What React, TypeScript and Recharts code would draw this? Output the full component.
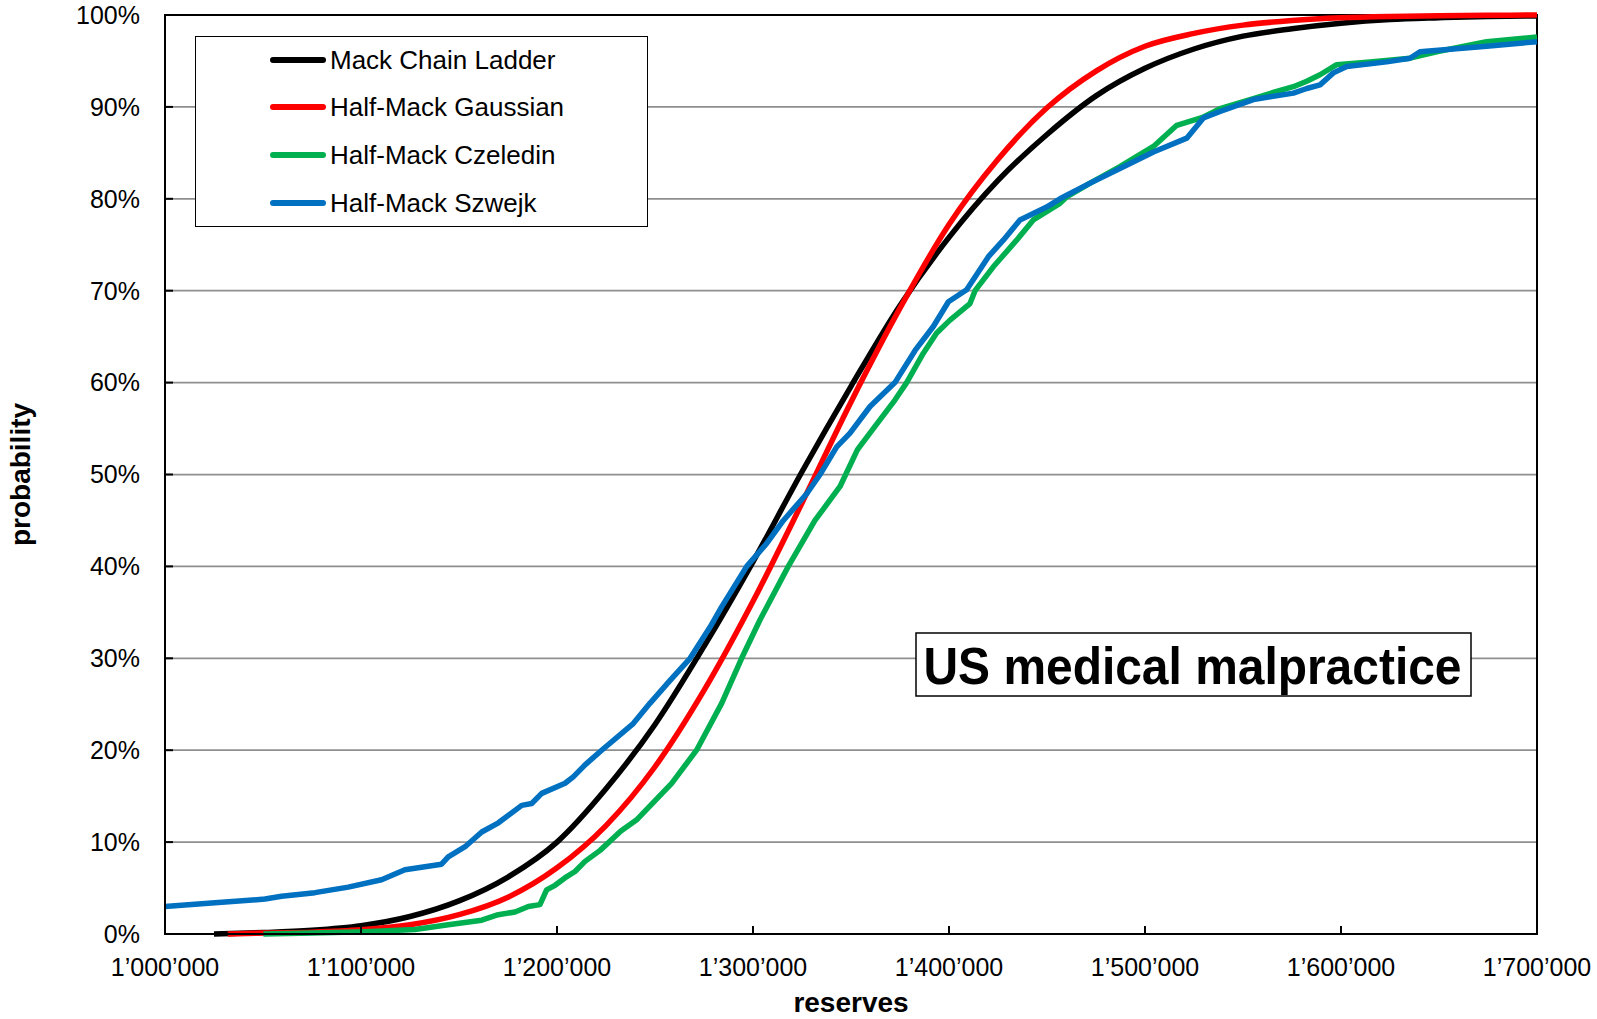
import React from 'react';
import {
  LineChart,
  Line,
  XAxis,
  YAxis,
  CartesianGrid,
  Legend,
  Label,
  ReferenceArea,
  Customized,
} from 'recharts';

const FONT = '"Liberation Sans", Arial, Helvetica, sans-serif';

// axis ticks
const X_TICKS = [1000000, 1100000, 1200000, 1300000, 1400000, 1500000, 1600000, 1700000];
const Y_TICKS = [0, 10, 20, 30, 40, 50, 60, 70, 80, 90, 100];

// series names, in legend order
const SERIES_NAMES = ['Mack Chain Ladder', 'Half-Mack Gaussian', 'Half-Mack Czeledin', 'Half-Mack Szwejk'];

// Mack Chain Ladder (reserves, cumulative probability in %)
const mackX = [
  1025000, 1050000, 1075000, 1100000, 1125000, 1150000, 1175000, 1200000, 1225000, 1250000,
  1275000, 1300000, 1325000, 1350000, 1375000, 1400000, 1425000, 1450000, 1475000, 1500000,
  1525000, 1550000, 1575000, 1600000, 1625000, 1650000, 1675000, 1700000,
];
const mackP = [
  0, 0.15, 0.4, 0.9, 1.9, 3.6, 6.2, 10.0, 15.8, 22.8,
  31.3, 40.5, 50.3, 59.6, 68.4, 75.8, 82.0, 87.0, 91.2, 94.2,
  96.3, 97.7, 98.5, 99.1, 99.5, 99.7, 99.85, 99.9,
];

// Half-Mack Gaussian
const gaussX = [
  1032000, 1050000, 1075000, 1100000, 1125000, 1150000, 1175000, 1200000, 1225000, 1250000,
  1275000, 1300000, 1325000, 1350000, 1375000, 1400000, 1425000, 1450000, 1475000, 1500000,
  1525000, 1550000, 1575000, 1600000, 1625000, 1650000, 1675000, 1700000,
];
const gaussP = [
  0, 0.1, 0.2, 0.45, 1.0, 2.1, 4.0, 7.2, 11.8, 18.2,
  26.5, 36.2, 46.9, 57.9, 68.1, 77.2, 84.3, 89.9, 93.9, 96.6,
  98.0, 98.9, 99.4, 99.7, 99.85, 99.93, 99.97, 100,
];

// Half-Mack Czeledin (simulated, empirical)
const czeledinX = [
  1050200, 1075000, 1102000, 1127500, 1144500, 1161600, 1170000, 1178600, 1185400, 1191300,
  1194700, 1199000, 1204000, 1209200, 1214300, 1222000, 1232600, 1240500, 1258500, 1271200,
  1284000, 1294200, 1303600, 1318000, 1331600, 1344400, 1353300, 1363500, 1372400, 1378400,
  1386900, 1393700, 1400500, 1410700, 1413300, 1422600, 1434500, 1443000, 1456600, 1460000,
  1472000, 1487200, 1504300, 1516200, 1529800, 1538300, 1555300, 1567200, 1575700, 1582500,
  1589300, 1597800, 1614800, 1635200, 1648800, 1674300, 1700000,
];
const czeledinP = [
  0, 0.1, 0.25, 0.5, 1.0, 1.5, 2.1, 2.4, 3.0, 3.2,
  4.8, 5.3, 6.1, 6.8, 7.9, 9.1, 11.2, 12.4, 16.4, 20.0,
  25.1, 30.0, 34.2, 40.0, 45.0, 48.7, 52.7, 55.6, 58.1, 60.0,
  63.2, 65.4, 66.8, 68.6, 70.0, 72.6, 75.5, 77.7, 79.5, 80.2,
  81.7, 83.5, 85.7, 88.0, 88.9, 89.8, 90.9, 91.7, 92.2, 92.8,
  93.5, 94.6, 94.9, 95.3, 96.0, 97.1, 97.6,
];

// Half-Mack Szwejk (simulated, empirical)
const szwejkX = [
  1000000, 1025500, 1051000, 1059500, 1076500, 1093500, 1110500, 1122400, 1141100, 1144500,
  1153100, 1161600, 1170100, 1182000, 1187100, 1192200, 1204100, 1208300, 1214300, 1222800,
  1238900, 1247400, 1257700, 1267900, 1278100, 1284000, 1296800, 1307000, 1315500, 1327400,
  1334200, 1342700, 1349500, 1359700, 1372400, 1382700, 1392000, 1399700, 1409000, 1420100,
  1427700, 1436200, 1449800, 1456600, 1472000, 1487200, 1504300, 1521300, 1529800, 1538300,
  1555300, 1563800, 1575700, 1582500, 1589300, 1596100, 1602900, 1623300, 1635200, 1640300,
  1657300, 1674300, 1700000,
];
const szwejkP = [
  3.0, 3.4, 3.8, 4.1, 4.5, 5.1, 5.9, 7.0, 7.6, 8.4,
  9.5, 11.1, 12.1, 14.0, 14.2, 15.3, 16.4, 17.1, 18.4, 20.0,
  22.9, 25.1, 27.6, 30.0, 33.4, 35.6, 40.0, 42.5, 45.0, 47.9,
  50.0, 53.0, 54.5, 57.4, 60.0, 63.5, 66.1, 68.8, 70.1, 73.7,
  75.5, 77.7, 79.1, 80.0, 81.7, 83.3, 85.1, 86.6, 88.8, 89.5,
  90.8, 91.1, 91.5, 92.0, 92.4, 93.7, 94.4, 94.9, 95.3, 96.0,
  96.3, 96.6, 97.1,
];

const toPoints = (xs: number[], ps: number[]) => xs.map((x, i) => ({ x, p: ps[i] }));

const mackData = toPoints(mackX, mackP);
const gaussData = toPoints(gaussX, gaussP);
const czeledinData = toPoints(czeledinX, czeledinP);
const szwejkData = toPoints(szwejkX, szwejkP);

const formatReserve = (v: number) => String(v).replace(/\B(?=(\d{3})+(?!\d))/g, '\u2019');
const formatPercent = (v: number) => `${v}%`;

function LegendBox({ payload }: any) {
  // keep the series order instead of the alphabetical one
  const items = [...(payload || [])].sort(
    (a: any, b: any) => SERIES_NAMES.indexOf(a.value) - SERIES_NAMES.indexOf(b.value)
  );
  return (
    <div
      style={{
        position: 'relative',
        width: '100%',
        height: '100%',
        boxSizing: 'border-box',
        border: '1.5px solid #000',
        background: '#fff',
        fontFamily: FONT,
      }}
    >
      {items.map((entry: any, i: number) => (
        <div
          key={`legend-${i}`}
          style={{
            position: 'absolute',
            left: 0,
            top: 22.5 + i * 47.7 - 16,
            height: 32,
          }}
        >
          <span
            style={{
              position: 'absolute',
              left: 74,
              top: 13,
              width: 56,
              height: 6,
              borderRadius: 3,
              background: entry.color,
            }}
          />
          <span
            style={{
              position: 'absolute',
              left: 134,
              top: 0,
              lineHeight: '32px',
              fontSize: 26,
              color: '#000',
              whiteSpace: 'nowrap',
            }}
          >
            {entry.value}
          </span>
        </div>
      ))}
    </div>
  );
}

function TitleBox() {
  return (
    <g>
      <rect x={916} y={633} width={555} height={63} fill="#fff" stroke="#000" strokeWidth={1.5} />
      <text
        x={923.5}
        y={684}
        fontFamily={FONT}
        fontWeight="bold"
        fontSize={52}
        fill="#000"
        textLength={538}
        lengthAdjust="spacingAndGlyphs"
      >
        US medical malpractice
      </text>
    </g>
  );
}

export default function App() {
  return (
    <div style={{ position: 'absolute', left: 0, top: 0, fontFamily: FONT, background: '#fff' }}>
      <LineChart width={1597} height={1019} margin={{ top: 15, right: 60, bottom: 0, left: 0 }}>
        <CartesianGrid vertical={false} stroke="#8f8f8f" strokeWidth={1.75} />
        <ReferenceArea
          x1={1000000}
          x2={1700000}
          y1={0}
          y2={100}
          fill="none"
          fillOpacity={0}
          stroke="#000"
          strokeWidth={2}
          strokeOpacity={1}
        />
        <XAxis
          dataKey="x"
          type="number"
          domain={[1000000, 1700000]}
          ticks={X_TICKS}
          interval={0}
          tickFormatter={formatReserve}
          height={85}
          tickSize={-8}
          tickMargin={32}
          axisLine={{ stroke: '#000', strokeWidth: 2 }}
          tickLine={{ stroke: '#000', strokeWidth: 2 }}
          tick={{ fill: '#000', fontSize: 25, fontFamily: FONT }}
        >
          <Label
            content={({ viewBox }: any) => (
              <text
                x={viewBox.x + viewBox.width / 2}
                y={viewBox.y + 78}
                textAnchor="middle"
                fontFamily={FONT}
                fontWeight="bold"
                fontSize={28}
                fill="#000"
              >
                reserves
              </text>
            )}
          />
        </XAxis>
        <YAxis
          type="number"
          domain={[0, 100]}
          ticks={Y_TICKS}
          interval={0}
          tickFormatter={formatPercent}
          width={165}
          tickSize={-8}
          tickMargin={33}
          axisLine={{ stroke: '#000', strokeWidth: 2 }}
          tickLine={{ stroke: '#000', strokeWidth: 2 }}
          tick={{ fill: '#000', fontSize: 25, fontFamily: FONT }}
        >
          <Label
            content={({ viewBox }: any) => {
              const cx = viewBox.x + 30;
              const cy = viewBox.y + viewBox.height / 2;
              return (
                <text
                  x={cx}
                  y={cy}
                  transform={`rotate(-90 ${cx} ${cy})`}
                  textAnchor="middle"
                  fontFamily={FONT}
                  fontWeight="bold"
                  fontSize={28}
                  fill="#000"
                >
                  probability
                </text>
              );
            }}
          />
        </YAxis>
        <Line
          data={mackData}
          dataKey="p"
          name={SERIES_NAMES[0]}
          type="monotone"
          stroke="#000000"
          strokeWidth={5.5}
          dot={false}
          activeDot={false}
          isAnimationActive={false}
        />
        <Line
          data={gaussData}
          dataKey="p"
          name={SERIES_NAMES[1]}
          type="monotone"
          stroke="#ff0000"
          strokeWidth={5.5}
          dot={false}
          activeDot={false}
          isAnimationActive={false}
        />
        <Line
          data={czeledinData}
          dataKey="p"
          name={SERIES_NAMES[2]}
          type="linear"
          stroke="#00b050"
          strokeWidth={5.5}
          strokeLinejoin="round"
          dot={false}
          activeDot={false}
          isAnimationActive={false}
        />
        <Line
          data={szwejkData}
          dataKey="p"
          name={SERIES_NAMES[3]}
          type="linear"
          stroke="#0070c0"
          strokeWidth={5.5}
          strokeLinejoin="round"
          dot={false}
          activeDot={false}
          isAnimationActive={false}
        />
        <Customized component={TitleBox} />
        <Legend
          layout="vertical"
          align="center"
          verticalAlign="middle"
          wrapperStyle={{ left: 195, top: 36, width: 453, height: 191 }}
          content={LegendBox}
        />
      </LineChart>
    </div>
  );
}
